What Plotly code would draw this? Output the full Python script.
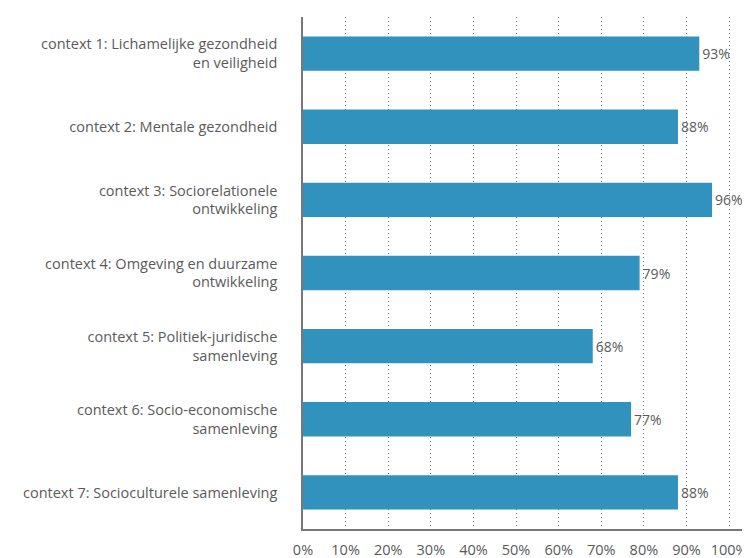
import plotly.graph_objects as go

categories = [
    "context 1: Lichamelijke gezondheid<br>en veiligheid",
    "context 2: Mentale gezondheid",
    "context 3: Sociorelationele<br>ontwikkeling",
    "context 4: Omgeving en duurzame<br>ontwikkeling",
    "context 5: Politiek-juridische<br>samenleving",
    "context 6: Socio-economische<br>samenleving",
    "context 7: Socioculturele samenleving",
]
values = [93, 88, 96, 79, 68, 77, 88]
tick_vals = [0, 10, 20, 30, 40, 50, 60, 70, 80, 90, 100]
tick_text = [f"{v}%" for v in tick_vals]

fig = go.Figure(go.Bar(
    y=categories, x=values, orientation="h",
    marker=dict(color="#3193bd", line=dict(width=0)),
    width=0.47,
    text=[f"{v}%" for v in values], textposition="outside",
    textfont=dict(size=14, color="#5a5a5a", family="Open Sans"),
    cliponaxis=False,
))

# page body has an 8px margin, so the figure is sized 742x550
fig.update_layout(
    width=742, height=550,
    margin=dict(l=295, r=3, t=9, b=29),
    plot_bgcolor="white", paper_bgcolor="white",
    font=dict(family="Open Sans", size=14.5, color="#5a5a5a"),
    showlegend=False,
    bargap=0.53,
)
fig.update_yaxes(
    autorange="reversed", showline=True, linecolor="#777777", linewidth=1.5,
    ticks="", ticklabelstandoff=21, showgrid=False, automargin=False,
)
fig.update_xaxes(
    range=[0, 104.2], tickvals=tick_vals, ticktext=tick_text,
    showgrid=True, gridcolor="#777777", griddash="1px,3px", gridwidth=1.2,
    showline=True, linecolor="#777777", linewidth=1.5, zeroline=False,
    ticks="", ticklabelstandoff=7, automargin=False,
    tickfont=dict(size=14.5, color="#5a5a5a"),
)
fig.write_html("out.html")
